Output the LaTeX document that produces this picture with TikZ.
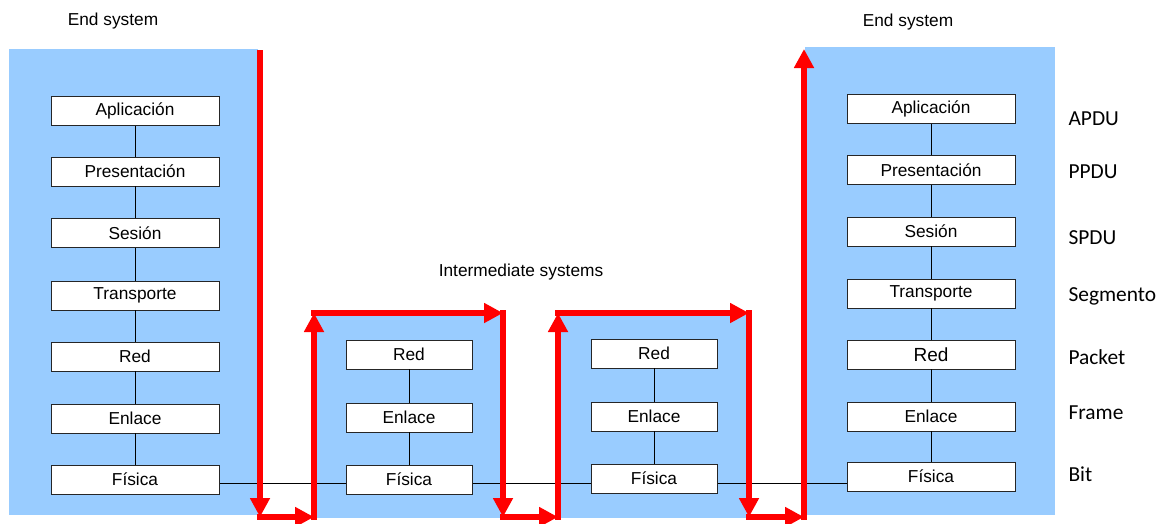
\documentclass[tikz,border=0pt]{standalone}
\usepackage{fontspec}
\setmainfont{Liberation Sans}
\newfontfamily\calibfont{Carlito}
\usetikzlibrary{arrows.meta}
\definecolor{sysblue}{RGB}{153,204,255}
\definecolor{flowred}{RGB}{255,0,0}
\begin{document}
\begin{tikzpicture}[x=1pt,y=-1pt,
  layer/.style={draw=black!85, line width=0.9pt, fill=white, minimum width=168pt,
    minimum height=29pt, inner sep=0pt, font=\fontsize{17.3}{19}\selectfont},
  midlayer/.style={layer, minimum width=126pt},
  sysbox/.style={fill=sysblue, draw=none, inner sep=0pt, anchor=north west},
  flow/.style={draw=flowred, line width=6pt, line cap=rect,
    -{Triangle[length=19pt,width=19pt]}},
  link/.style={draw=black, line width=0.8pt},
  header/.style={font=\fontsize{17.3}{19}\selectfont},
  pdu/.style={anchor=west, font=\calibfont\fontsize{21.4}{23}\selectfont},
]
\useasboundingbox (0,0) rectangle (1158,523);
% system backgrounds
\node (esL) [sysbox, minimum width=249pt, minimum height=466pt] at (9,49) {};
\node (is1) [sysbox, minimum width=188pt, minimum height=203pt] at (314,315) {};
\node (is2) [sysbox, minimum width=188pt, minimum height=203pt] at (560,315) {};
\node (esR) [sysbox, minimum width=250pt, minimum height=468pt] at (805,47) {};
% headers
\node (hL) [header] at (113,21) {End system};
\node (hR) [header] at (908,22) {End system};
\node (hM) [header] at (521,272) {Intermediate systems};
% bus line
\coordinate (bus) at (0,483);
% left stack
\node (a1) [layer] at (135,111) {Aplicación};
\node (a2) [layer] at (135,171.5) {Presentación};
\node (a3) [layer] at (135,233) {Sesión};
\node (a4) [layer] at (135,295.5) {Transporte};
\node (a5) [layer] at (135,356.5) {Red};
\node (a6) [layer] at (135,418.5) {Enlace};
% right stack
\node (c1) [layer] at (931,109) {Aplicación};
\node (c2) [layer] at (931,170) {Presentación};
\node (c3) [layer] at (931,231.5) {Sesión};
\node (c4) [layer] at (931,293.5) {Transporte};
\node (c5) [layer, font=\fontsize{19}{21}\selectfont] at (931,354.5) {Red};
\node (c6) [layer] at (931,416.5) {Enlace};
% physical link
\path (135,479.5) coordinate (a7pos) (931,476.5) coordinate (c7pos);
\draw[link] (219,0 |- bus) -- (847,0 |- bus);
\node (a7) [layer] at (a7pos) {Física};
\node (c7) [layer] at (c7pos) {Física};
% intermediate stacks
\node (m1) [midlayer] at (409,354.5) {Red};
\node (m2) [midlayer] at (409,417.5) {Enlace};
\node (m3) [midlayer] at (409,479.5) {Física};
\node (n1) [midlayer] at (654,353.5) {Red};
\node (n2) [midlayer] at (654,416.5) {Enlace};
\node (n3) [midlayer] at (654,478.5) {Física};
% vertical links
\foreach \s in {a,c} {
  \draw[link] (\s1.south) -- (\s2.north);
  \draw[link] (\s2.south) -- (\s3.north);
  \draw[link] (\s3.south) -- (\s4.north);
  \draw[link] (\s4.south) -- (\s5.north);
  \draw[link] (\s5.south) -- (\s6.north);
  \draw[link] (\s6.south) -- (\s7.north);
}
\foreach \s in {m,n} {
  \draw[link] (\s1.south) -- (\s2.north);
  \draw[link] (\s2.south) -- (\s3.north);
}
% PDU labels
\node (p1) [pdu] at (1065,119) {APDU};
\node (p2) [pdu] at (1065,172) {PPDU};
\node (p3) [pdu] at (1065,238) {SPDU};
\node (p4) [pdu] at (1065,296) {Segmento};
\node (p5) [pdu] at (1065,357) {Packet};
\node (p6) [pdu] at (1065,413) {Frame};
\node (p7) [pdu] at (1065,474) {Bit};
% red flow
\coordinate (r0) at (260,53);
\coordinate (r1) at (260,517);
\coordinate (r2) at (314,517);
\coordinate (r3) at (314,313);
\coordinate (r4) at (503,313);
\coordinate (r5) at (503,517);
\coordinate (r6) at (558,517);
\coordinate (r7) at (558,313);
\coordinate (r8) at (749,313);
\coordinate (r9) at (749,517);
\coordinate (r10) at (804,517);
\coordinate (r11) at (804,49);
\draw[flow] (r0) -- (r1);
\draw[flow] (r1) -- (r2);
\draw[flow] (r2) -- (r3);
\draw[flow] (r3) -- (r4);
\draw[flow] (r4) -- (r5);
\draw[flow] (r5) -- (r6);
\draw[flow] (r6) -- (r7);
\draw[flow] (r7) -- (r8);
\draw[flow] (r8) -- (r9);
\draw[flow] (r9) -- (r10);
\draw[flow] (r10) -- (r11);
\end{tikzpicture}
\end{document}
